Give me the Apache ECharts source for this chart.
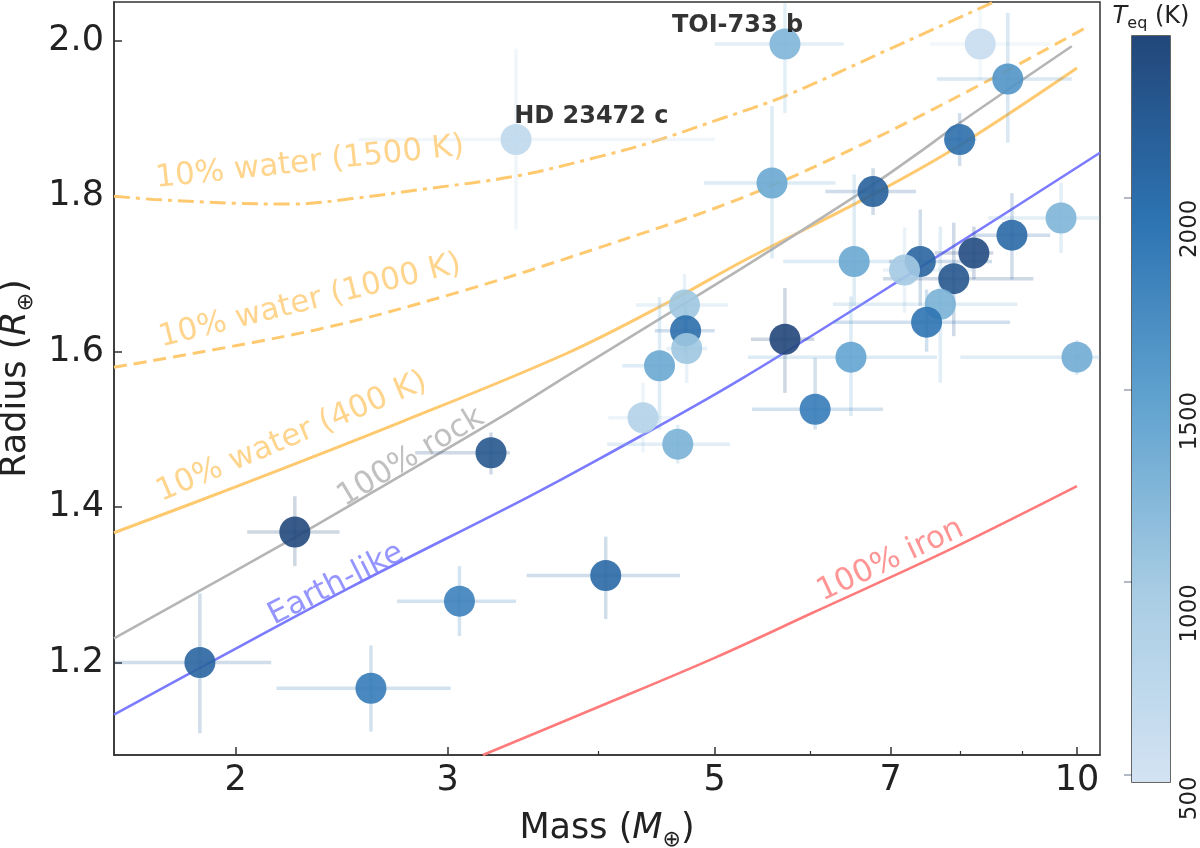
<!DOCTYPE html>
<html><head><meta charset="utf-8">
<script src="https://cdn.jsdelivr.net/npm/echarts@6/dist/echarts.min.js"></script>
<style>html,body{margin:0;padding:0;background:#fff}#c{width:1200px;height:848px}</style>
</head><body><div id="c"></div>
<script>
// ---- axis ticks ----
const xTicks = [2, 3, 5, 7, 10];
const xMinorTicks = [4, 6, 8, 9];
const yTicks = [1.2, 1.4, 1.6, 1.8, 2.0];
const cbTicks = [500, 1000, 1500, 2000];
const cbRange = [480, 2420];
const cbColors = ['#d3e3f3', '#a9cde4', '#63a4d0', '#2d74b3', '#22477a'];

// ---- planets ----
const planetMass     = [1.868, 2.240, 2.591, 3.069, 3.26, 4.06, 3.42, 4.72, 4.73, 4.74, 4.50, 4.36, 4.66, 5.58, 6.77, 6.53, 6.49, 9.70, 8.83, 8.21, 7.90, 7.41, 7.19, 7.70, 7.50, 5.72, 10.0, 6.06, 5.72, 8.31, 8.76, 7.99];
const planetMassLo   = [1.588, 2.045, 2.163, 2.724, 2.82, 3.49, 2.53, 4.30, 4.46, 4.56, 4.19, 4.08, 4.07, 4.90, 6.18, 5.70, 5.33, 8.44, 8.20, 7.62, 6.90, 6.98, 6.90, 6.27, 6.28, 5.36, 8.00, 5.37, 5.00, 7.55, 7.65, 7.75];
const planetMassHi   = [2.141, 2.440, 3.018, 3.420, 3.38, 4.68, 5.00, 5.13, 5.00, 4.93, 4.62, 4.60, 5.15, 6.30, 7.35, 7.03, 7.65, 10.45, 9.50, 8.52, 9.20, 8.50, 8.20, 8.92, 8.80, 6.05, 10.45, 6.90, 6.40, 9.50, 9.90, 8.25];
const planetRadius   = [1.200, 1.368, 1.167, 1.279, 1.470, 1.312, 1.873, 1.660, 1.627, 1.604, 1.582, 1.515, 1.481, 1.817, 1.806, 1.716, 1.593, 1.772, 1.750, 1.727, 1.694, 1.716, 1.705, 1.661, 1.638, 1.616, 1.593, 1.526, 1.996, 1.996, 1.951, 1.873];
const planetRadiusLo = [1.109, 1.324, 1.111, 1.234, 1.442, 1.256, 1.757, 1.620, 1.597, 1.560, 1.500, 1.470, 1.456, 1.720, 1.776, 1.659, 1.517, 1.727, 1.693, 1.693, 1.620, 1.659, 1.650, 1.560, 1.600, 1.547, 1.570, 1.500, 1.907, 1.950, 1.869, 1.839];
const planetRadiusHi = [1.289, 1.414, 1.222, 1.324, 1.496, 1.362, 1.990, 1.700, 1.657, 1.650, 1.670, 1.560, 1.506, 1.916, 1.836, 1.828, 1.671, 1.817, 1.804, 1.761, 1.766, 1.783, 1.760, 1.761, 1.680, 1.682, 1.615, 1.592, 2.049, 2.040, 2.036, 1.907];
const planetTeq      = [2100, 2400, 1850, 1800, 2250, 2050, 720, 1050, 2000, 1050, 1400, 850, 1300, 1400, 2150, 1400, 1450, 1250, 2050, 2350, 2250, 2100, 1000, 1300, 1950, 2450, 1350, 1850, 1250, 620, 1600, 2000];

// ---- named planets ----
const namedPlanets = ['HD 23472 c', 'TOI-733 b'];
const namedLabelMass = [3.95, 5.224];
const namedLabelRadius = [1.9025, 2.0196];

// ---- composition curves ----
const water1500Mass = [1.585, 1.71, 2.0, 2.23, 2.5, 2.86, 3.42, 4.01, 4.42, 5.0, 5.72, 7.0, 8.5];
const water1500Rad  = [1.800, 1.796, 1.791, 1.790, 1.797, 1.809, 1.826, 1.851, 1.869, 1.897, 1.929, 1.990, 2.049];
const water1000Mass = [1.585, 2.33, 3.07, 4.01, 5.25, 6.7, 8.37, 10.2];
const water1000Rad  = [1.580, 1.628, 1.677, 1.734, 1.797, 1.870, 1.946, 2.018];
const water400Mass  = [1.585, 2.0, 2.75, 3.77, 4.58, 5.3, 6.8, 8.0, 10.0];
const water400Rad   = [1.367, 1.426, 1.510, 1.598, 1.664, 1.718, 1.804, 1.866, 1.965];
const rockMass      = [1.585, 2.24, 2.74, 3.38, 3.77, 5.25, 6.77, 7.48, 8.0, 9.9];
const rockRad       = [1.231, 1.361, 1.440, 1.523, 1.569, 1.706, 1.815, 1.862, 1.895, 1.993];
const earthMass     = [1.585, 1.868, 2.5, 3.49, 4.01, 5.25, 7.63, 10.45];
const earthRad      = [1.133, 1.193, 1.298, 1.412, 1.462, 1.564, 1.721, 1.856];
const ironMass      = [3.21, 4.02, 5.0, 6.05, 7.76, 10.0];
const ironRad       = [1.081, 1.144, 1.206, 1.265, 1.342, 1.427];

// ---- curve labels ----
const curveLabelText = ['10% water (1500 K)', '10% water (1000 K)', '10% water (400 K)', '100% rock', 'Earth-like', '100% iron'];
const curveLabelMass = [2.306, 2.306, 2.227, 2.797, 2.424, 7.0];
const curveLabelRad  = [1.843, 1.665, 1.490, 1.464, 1.3006, 1.3314];
const curveLabelAngle = [6, 14, 23, 31, 27, 25];

// ---- styles ----
const FONT = 'DejaVu Sans';
const ORANGE = '#ffc970', GRAY = '#b5b5b5', BLUE = '#7b7bff', RED = '#ff7b7b';
const curveLabelColor = [ORANGE, ORANGE, ORANGE, '#b0b0b0', BLUE, RED];

const pts = planetMass.map((m, i) => [m, planetRadius[i], planetTeq[i], planetMassLo[i], planetMassHi[i], planetRadiusLo[i], planetRadiusHi[i]]);

function curve(name, ms, rs, color, type, width) {
  return { type: 'line', name, xAxisIndex: 0, yAxisIndex: 0, data: ms.map((m, i) => [m, rs[i]]),
    showSymbol: false, symbol: 'none', smooth: 0.35, silent: true, clip: true, z: 2,
    lineStyle: { color, width, type } };
}

const series = [
  curve('water1500', water1500Mass, water1500Rad, ORANGE, [16, 6, 4, 6], 3),
  curve('water1000', water1000Mass, water1000Rad, ORANGE, [13, 7], 3),
  curve('water400', water400Mass, water400Rad, ORANGE, 'solid', 3),
  curve('rock', rockMass, rockRad, GRAY, 'solid', 2.6),
  curve('earth', earthMass, earthRad, BLUE, 'solid', 2.6),
  curve('iron', ironMass, ironRad, RED, 'solid', 2.6),
  { type: 'custom', name: 'errors', xAxisIndex: 0, yAxisIndex: 0, data: pts, clip: true, z: 3, silent: true,
    encode: { x: [0, 3, 4], y: [1, 5, 6] },
    renderItem: (params, api) => {
      const c = api.visual('color');
      const a = api.coord([api.value(3), api.value(1)]), b = api.coord([api.value(4), api.value(1)]);
      const d = api.coord([api.value(0), api.value(5)]), e = api.coord([api.value(0), api.value(6)]);
      return { type: 'group', children: [
        { type: 'line', shape: { x1: a[0], y1: a[1], x2: b[0], y2: b[1] }, style: { stroke: c, lineWidth: 3.5, opacity: 0.22 } },
        { type: 'line', shape: { x1: d[0], y1: d[1], x2: e[0], y2: e[1] }, style: { stroke: c, lineWidth: 3.5, opacity: 0.22 } }
      ] };
    } },
  { type: 'scatter', name: 'planets', xAxisIndex: 0, yAxisIndex: 0, data: pts, symbolSize: 31, z: 4,
    encode: { x: 0, y: 1 }, itemStyle: { opacity: 0.9 } },
  { type: 'scatter', name: 'curveLabels', xAxisIndex: 0, yAxisIndex: 0, symbolSize: 1, silent: true, z: 5,
    itemStyle: { color: 'rgba(0,0,0,0)' },
    data: curveLabelText.map((t, i) => ({ value: [curveLabelMass[i], curveLabelRad[i]], name: t,
      label: { show: true, position: 'inside', rotate: curveLabelAngle[i], color: curveLabelColor[i],
        fontSize: 31, fontFamily: FONT, formatter: '{b}' } })) },
  { type: 'scatter', name: 'planetLabels', xAxisIndex: 0, yAxisIndex: 0, symbolSize: 1, silent: true, z: 6,
    itemStyle: { color: 'rgba(0,0,0,0)' },
    data: namedPlanets.map((t, i) => ({ value: [namedLabelMass[i], namedLabelRadius[i]], name: t })),
    label: { show: true, position: 'inside', color: '#000', fontSize: 24, fontWeight: 'bold', fontFamily: FONT, formatter: '{b}' } },
  { type: 'custom', name: 'colorbar', xAxisIndex: 2, yAxisIndex: 1, data: [[0, cbRange[0], 1, cbRange[1]]], silent: true,
    renderItem: (params, api) => {
      const p0 = api.coord([api.value(0), api.value(3)]);
      const p1 = api.coord([api.value(2), api.value(1)]);
      const stops = cbColors.slice().reverse().map((c, i, arr) => ({ offset: i / (arr.length - 1), color: c }));
      return { type: 'rect', shape: { x: p0[0], y: p0[1], width: p1[0] - p0[0], height: p1[1] - p0[1] },
        style: { fill: new echarts.graphic.LinearGradient(0, 0, 0, 1, stops) } };
    } }
];

const axisColor = '#333';
const option = {
  animation: false,
  backgroundColor: '#fff',
  grid: [
    { left: 114, top: 2, width: 986, height: 753, show: true, borderColor: axisColor, borderWidth: 1.5,
      containLabel: false, outerBoundsMode: 'none' },
    { left: 1132, top: 36, width: 38, height: 746, show: true, borderColor: axisColor, borderWidth: 1.5,
      containLabel: false, outerBoundsMode: 'none' }
  ],
  xAxis: [
    { type: 'log', logBase: 10, gridIndex: 0, min: 1.585, max: 10.45, position: 'bottom',
      axisLine: { show: true, lineStyle: { color: axisColor, width: 1.5 } },
      axisTick: { show: true, inside: true, length: 8, customValues: xTicks, lineStyle: { color: axisColor, width: 1.5 } },
      axisLabel: { show: true, customValues: xTicks, fontSize: 35, fontFamily: FONT, color: '#222', margin: 8,
        formatter: v => String(Math.round(v)) },
      splitLine: { show: false }, minorTick: { show: false }, minorSplitLine: { show: false },
      name: '{n|Mass (}{i|M}{s|⊕}{n|)}', nameLocation: 'middle', nameGap: 52,
      nameTextStyle: { fontFamily: FONT, color: '#222', fontSize: 35,
        rich: { n: { fontSize: 35, fontFamily: FONT, color: '#222', lineHeight: 44 },
                i: { fontSize: 35, fontFamily: FONT, color: '#222', fontStyle: 'italic', lineHeight: 44 },
                s: { fontSize: 22, fontFamily: FONT, color: '#222', verticalAlign: 'bottom', lineHeight: 44 } } } },
    { type: 'log', logBase: 10, gridIndex: 0, min: 1.585, max: 10.45, position: 'bottom',
      axisLine: { show: false },
      axisTick: { show: true, inside: true, length: 4, customValues: xMinorTicks, lineStyle: { color: axisColor, width: 1.2 } },
      axisLabel: { show: false }, splitLine: { show: false } },
    { type: 'value', gridIndex: 1, min: 0, max: 1, show: false }
  ],
  yAxis: [
    { type: 'value', gridIndex: 0, min: 1.081, max: 2.05,
      axisLine: { show: true, lineStyle: { color: axisColor, width: 1.5 } },
      axisTick: { show: true, inside: true, length: 8, customValues: yTicks, lineStyle: { color: axisColor, width: 1.5 } },
      axisLabel: { show: true, customValues: yTicks, fontSize: 35, fontFamily: FONT, color: '#222', margin: 10,
        formatter: v => v.toFixed(1) },
      splitLine: { show: false },
      name: '{n|Radius (}{i|R}{s|⊕}{n|)}', nameLocation: 'middle', nameGap: 56,
      nameTextStyle: { fontFamily: FONT, color: '#222', fontSize: 35,
        rich: { n: { fontSize: 35, fontFamily: FONT, color: '#222', lineHeight: 44 },
                i: { fontSize: 35, fontFamily: FONT, color: '#222', fontStyle: 'italic', lineHeight: 44 },
                s: { fontSize: 22, fontFamily: FONT, color: '#222', verticalAlign: 'bottom', lineHeight: 44 } } } },
    { type: 'value', gridIndex: 1, min: cbRange[0], max: cbRange[1], position: 'right',
      axisLine: { show: false },
      axisTick: { show: true, inside: true, length: 8, customValues: cbTicks, lineStyle: { color: 'rgba(30,50,80,0.45)', width: 1.5 } },
      axisLabel: { show: true, customValues: cbTicks, rotate: 90, fontSize: 23, fontFamily: FONT, color: '#222', margin: 20,
        align: 'right', verticalAlign: 'middle', padding: [0, 2, 0, 0], formatter: v => String(Math.round(v)) },
      splitLine: { show: false } }
  ],
  visualMap: [{ type: 'continuous', show: false, min: cbRange[0], max: cbRange[1], dimension: 2,
    seriesIndex: [6, 7], inRange: { color: cbColors } }],
  graphic: [{ type: 'text', x: 1151, y: 2, z: 10,
    style: { text: '{i|T}{s|eq}{n| (K)}', align: 'center', verticalAlign: 'top',
      rich: { i: { fontSize: 24, fontFamily: FONT, fontStyle: 'italic', fill: '#222', lineHeight: 30 },
              s: { fontSize: 16, fontFamily: FONT, fill: '#222', verticalAlign: 'bottom', lineHeight: 30 },
              n: { fontSize: 24, fontFamily: FONT, fill: '#222', lineHeight: 30 } } } }],
  series
};

const chart = echarts.init(document.getElementById('c'), null, { renderer: 'canvas', width: 1200, height: 848 });
chart.setOption(option);
</script></body></html>
